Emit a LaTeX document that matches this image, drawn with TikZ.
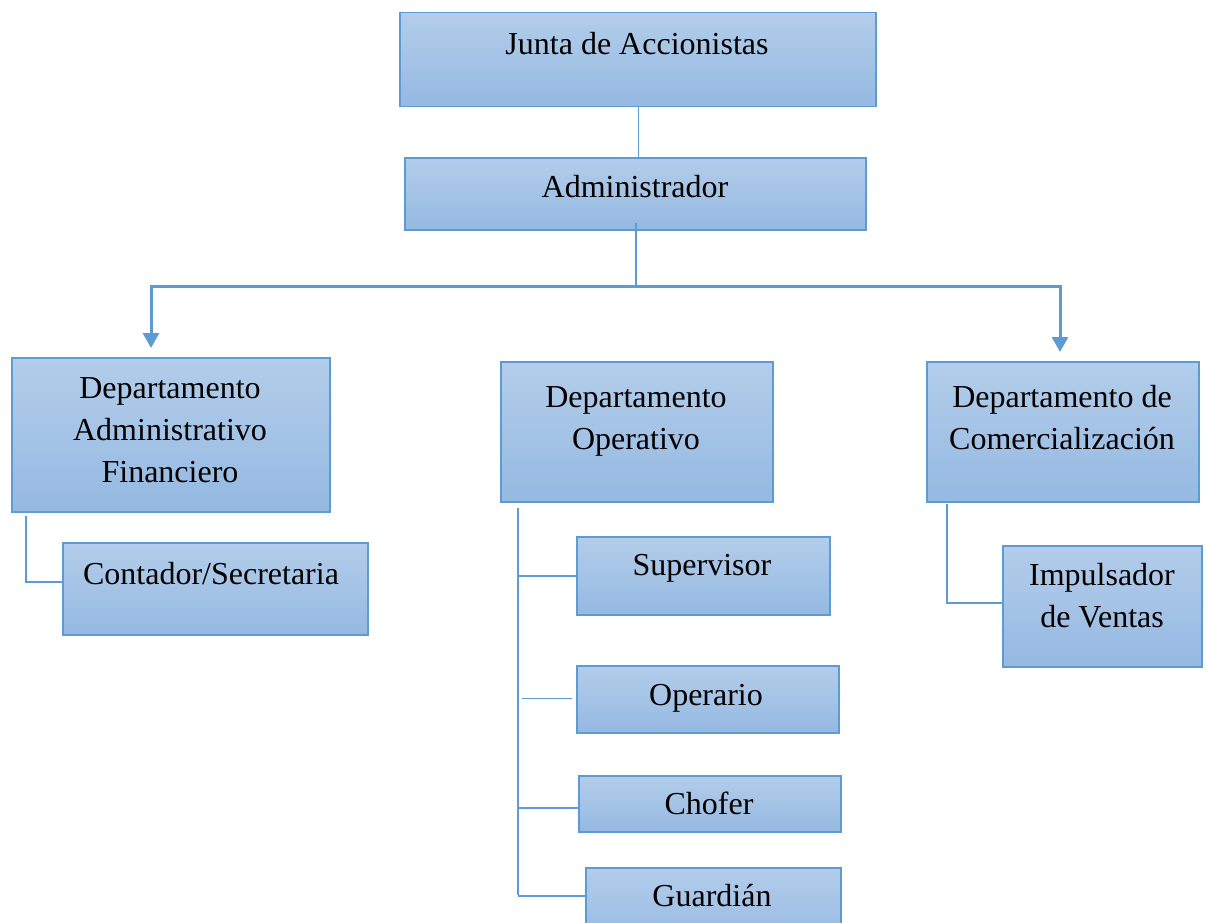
\documentclass[tikz,border=0pt]{standalone}
\usepackage{fontspec}
\setmainfont{Liberation Serif}
\usetikzlibrary{arrows.meta}
\definecolor{boxtop}{RGB}{179,205,234}
\definecolor{boxbot}{RGB}{149,185,226}
\definecolor{boxline}{RGB}{93,155,213}
\tikzset{
  orgbox/.style={draw=boxline, line width=1.5pt, top color=boxtop, bottom color=boxbot, rectangle, inner sep=0pt, anchor=north west},
  txt/.style={font=\fontsize{32}{42}\selectfont, align=center, inner sep=0pt, anchor=base, text=black, yshift=-1.5pt},
  thinline/.style={draw=boxline, line width=1.3pt},
  branch/.style={draw=boxline, line width=3pt, -{Triangle[width=16pt,length=15pt]}}
}
\begin{document}
\begin{tikzpicture}[x=1pt,y=-1pt]
\clip (0,0) rectangle (1207,923);
\fill[white] (0,0) rectangle (1207,923);
% boxes
\node[orgbox, minimum width=476pt, minimum height=94pt] (junta) at (399,12) {};
\node[orgbox, minimum width=461pt, minimum height=72pt] (admin) at (404,157) {};
\node[orgbox, minimum width=318pt, minimum height=154pt] (daf) at (11,357) {};
\node[orgbox, minimum width=272pt, minimum height=140pt] (dop) at (500,361) {};
\node[orgbox, minimum width=272pt, minimum height=140pt] (dcom) at (926,361) {};
\node[orgbox, minimum width=305pt, minimum height=92pt] (cont) at (62,542) {};
\node[orgbox, minimum width=199pt, minimum height=121pt] (imp) at (1002,545) {};
\node[orgbox, minimum width=253pt, minimum height=78pt] (sup) at (576,536) {};
\node[orgbox, minimum width=262pt, minimum height=67pt] (ope) at (576,665) {};
\node[orgbox, minimum width=262pt, minimum height=56pt] (cho) at (578,775) {};
\node[orgbox, minimum width=255pt, minimum height=80pt] (gua) at (585,867) {};
% texts (anchor base = baseline of last line)
\node[txt] (tjunta) at (637,53) {Junta de Accionistas};
\node[txt] (tadmin) at (635,196) {Administrador};
\node[txt] (tdaf) at (170,481) {Departamento\\Administrativo\\Financiero};
\node[txt] (tdop) at (636,448) {Departamento\\Operativo};
\node[txt] (tdcom) at (1062,448) {Departamento de\\Comercialización};
\node[txt] (tcont) at (211,583) {Contador/Secretaria};
\node[txt] (timp) at (1102,626) {Impulsador\\de Ventas};
\node[txt] (tsup) at (702,574) {Supervisor};
\node[txt] (tope) at (706,704) {Operario};
\node[txt] (tcho) at (709,813) {Chofer};
\node[txt] (tgua) at (712,905) {Guardián};
% connectors
\coordinate (j1) at (638.5,107);
\draw[thinline] (j1) -- (j1 |- admin.north);
\coordinate (hub) at (636,286);
\coordinate (a1) at (636,223);
\draw[thinline] (a1) -- (hub);
\coordinate (al) at (151,348);
\coordinate (ar) at (1060,352);
\draw[branch] (hub) -| (al);
\draw[branch] (hub) -| (ar);
% left sub
\coordinate (c1) at (26,516);
\coordinate (c2) at (26,582);
\draw[thinline] (c1) -- (c2) -- (c2 -| cont.west);
% right sub
\coordinate (i1) at (947,504);
\coordinate (i2) at (947,603);
\draw[thinline] (i1) -- (i2) -- (i2 -| imp.west);
% middle column
\coordinate (m1) at (518,508);
\coordinate (m2) at (518,895);
\draw[thinline] (m1) -- (m2);
\coordinate (ms) at (518,576);
\draw[thinline] (ms) -- (ms -| sup.west);
\coordinate (mo1) at (522,698.5);
\coordinate (mo2) at (572,698.5);
\draw[thinline] (mo1) -- (mo2);
\coordinate (mc) at (518,808);
\draw[thinline] (mc) -- (mc -| cho.west);
\coordinate (mg) at (518,896);
\draw[thinline] (mg) -- (mg -| gua.west);
\end{tikzpicture}
\end{document}
